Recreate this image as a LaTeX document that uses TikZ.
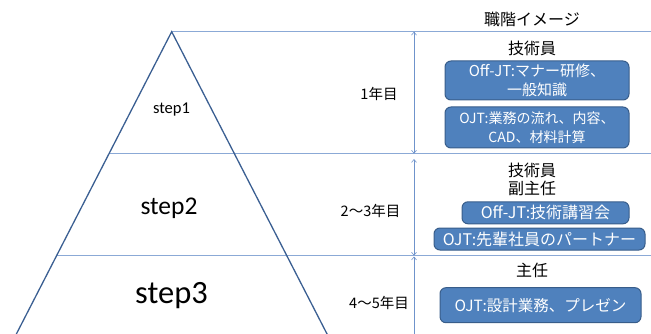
\documentclass[tikz,border=0pt]{standalone}
\usepackage{fontspec}
\setmainfont{Carlito}
\newfontfamily\jp{Noto Sans CJK JP}
\usetikzlibrary{arrows.meta}
\definecolor{tri}{HTML}{3B5F92}
\definecolor{hl}{HTML}{8BA9D6}
\definecolor{arr}{HTML}{6F93CB}
\definecolor{bfill}{HTML}{4F81BD}
\definecolor{bdraw}{HTML}{385D8A}
\newcommand{\fs}[1]{\fontsize{#1}{1.3\dimexpr#1pt\relax}\selectfont}
\tikzset{
  hline/.style={draw=hl, line width=1.1pt},
  triline/.style={draw=tri, line width=1.3pt, line join=miter},
  yarrow/.style={draw=arr, line width=0.6pt, {Straight Barb[length=3pt,width=5pt]}-{Straight Barb[length=3pt,width=5pt]}},
  obox/.style={draw=bdraw, fill=bfill, line width=1pt, rounded corners=6pt, text=white, align=center, inner sep=0pt},
  head/.style={font=\jp\fontsize{16}{18.5}\selectfont, align=center},
  yr/.style={font=\jp\fontsize{14.5}{16}\selectfont},
}
\begin{document}
\begin{tikzpicture}[x=1pt,y=-1pt]
\useasboundingbox (0,0) rectangle (651,334);
% coordinates
\coordinate (apex) at (171.7,31.7);
\coordinate (bl) at (14.3,338);
\coordinate (br) at (329.1,338);
\coordinate (top) at (651,31.7);
\coordinate (l1a) at (108.9,153.7);
\coordinate (l1b) at (651,153.7);
\coordinate (l2a) at (56.2,255.7);
\coordinate (l2b) at (651,255.7);
\coordinate (a1s) at (414,31.7);
\coordinate (a1e) at (414,153.7);
\coordinate (a2s) at (414,159);
\coordinate (a2e) at (414,255.7);
\coordinate (a3s) at (414,256.5);
\coordinate (a3e) at (414,345);
% lines
\draw[hline] (apex) -- (top);
\draw[hline] (l1a) -- (l1b);
\draw[hline] (l2a) -- (l2b);
\draw[triline] (bl) -- (apex) -- (br);
\draw[yarrow] (a1s) -- (a1e);
\draw[yarrow] (a2s) -- (a2e);
\draw[draw=arr, line width=0.6pt, {Straight Barb[length=3pt,width=5pt]}-] (a3s) -- (a3e);
% step labels
\node (s1) at (171.5,110) {\fontsize{16.5}{19}\selectfont step1};
\node (s2) at (169,208) {\fontsize{25.5}{28}\selectfont step2};
\node (s3) at (171.5,296) {\fontsize{32.5}{36}\selectfont step3};
% year labels
\node[yr] (y1) at (379,94) {1年目};
\node[yr] (y2) at (370.5,211) {2〜3年目};
\node[yr] (y3) at (379,303) {4〜5年目};
% right column
\node[head] (h0) at (532,19) {職階イメージ};
\node[head] (h1) at (532,48.5) {技術員};
\node[obox, minimum width=184pt, minimum height=39pt, font=\jp\fontsize{15}{19.5}\selectfont] (b1) at (537,80.5) {Off-JT:マナー研修、\\一般知識};
\node[obox, minimum width=184pt, minimum height=41pt, font=\jp\fontsize{14}{19.5}\selectfont] (b2) at (537,127.5) {OJT:業務の流れ、内容、\\CAD、材料計算};
\node[head] (h2) at (532,179.5) {技術員\\副主任};
\node[obox, minimum width=167pt, minimum height=22pt, font=\jp\fontsize{16}{18}\selectfont] (b3) at (545.5,212.8) {Off-JT:技術講習会};
\node[obox, minimum width=211pt, minimum height=22pt, font=\jp\fontsize{16}{18}\selectfont] (b4) at (539.5,239) {OJT:先輩社員のパートナー};
\node[head] (h3) at (532,270.5) {主任};
\node[obox, minimum width=201pt, minimum height=35pt, font=\jp\fontsize{15.5}{18}\selectfont] (b5) at (540.5,305.2) {OJT:設計業務、プレゼン};
\end{tikzpicture}
\end{document}
